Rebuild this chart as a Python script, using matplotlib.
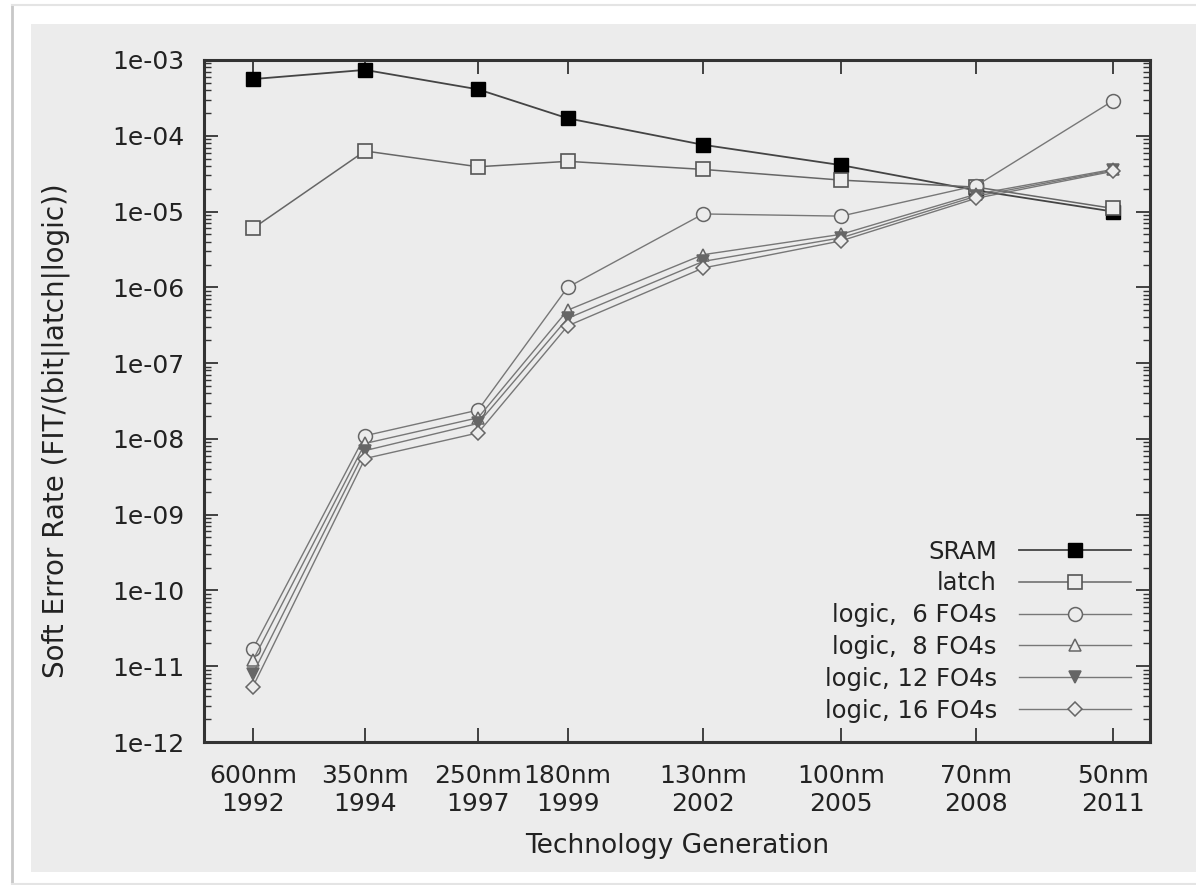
import matplotlib
matplotlib.use("Agg")
import matplotlib.pyplot as plt
from matplotlib.patches import Rectangle
from matplotlib.lines import Line2D
from matplotlib.ticker import LogLocator, FixedLocator, NullFormatter

# technology generations (x placement follows the original chart spacing)
nodes = ["600nm", "350nm", "250nm", "180nm", "130nm", "100nm", "70nm", "50nm"]
years = ["1992", "1994", "1997", "1999", "2002", "2005", "2008", "2011"]
gen_pos = [0.0, 1.0, 2.01, 2.81, 4.02, 5.25, 6.46, 7.68]

sram = [5.6e-4, 7.4e-4, 4.1e-4, 1.7e-4, 7.6e-5, 4.1e-5, 1.9e-5, 1.0e-5]
latch = [6.0e-6, 6.3e-5, 3.9e-5, 4.6e-5, 3.6e-5, 2.6e-5, 2.1e-5, 1.1e-5]
logic_6 = [1.7e-11, 1.1e-8, 2.4e-8, 1.0e-6, 9.3e-6, 8.7e-6, 2.2e-5, 2.9e-4]
logic_8 = [1.2e-11, 8.7e-9, 1.9e-8, 5.0e-7, 2.7e-6, 5.0e-6, 1.7e-5, 3.6e-5]
logic_12 = [8.0e-12, 7.0e-9, 1.6e-8, 3.9e-7, 2.2e-6, 4.5e-6, 1.6e-5, 3.5e-5]
logic_16 = [5.4e-12, 5.5e-9, 1.2e-8, 3.1e-7, 1.8e-6, 4.1e-6, 1.5e-5, 3.4e-5]

plt.rcParams["font.family"] = ["DejaVu Sans"]
panel = "#ececec"

fig = plt.figure(figsize=(11.96, 8.85), dpi=100)
fig.patch.set_facecolor("white")
fig.patches.append(Rectangle((31 / 1196, 13 / 885), 1 - 31 / 1196, (872 - 24) / 885,
                             transform=fig.transFigure, facecolor=panel,
                             edgecolor="none", zorder=-5))
fig.add_artist(Line2D([12 / 1196, 12 / 1196], [0, 1 - 5 / 885], transform=fig.transFigure,
                      color="#c8c8c8", lw=2, zorder=-5))
fig.add_artist(Line2D([12 / 1196, 1], [1 - 5 / 885, 1 - 5 / 885], transform=fig.transFigure,
                      color="#e4e4e4", lw=1.5, zorder=-5))
fig.add_artist(Line2D([12 / 1196, 1], [1 / 885, 1 / 885], transform=fig.transFigure,
                      color="#e4e4e4", lw=1.5, zorder=-5))

ax = fig.add_axes([204 / 1196, 1 - 742 / 885, (1150 - 204) / 1196, (742 - 60) / 885])
ax.set_facecolor(panel)

series = [
    ("SRAM", sram, dict(marker="s", ms=10, mfc="black", mec="black", color="#444444", lw=1.3)),
    ("latch", latch, dict(marker="s", ms=10, mfc=panel, mec="#555555", mew=1.2, color="#666666", lw=1.1)),
    ("logic,  6 FO4s", logic_6, dict(marker="o", ms=10, mfc=panel, mec="#666666", mew=1.1, color="#777777", lw=1.0)),
    ("logic,  8 FO4s", logic_8, dict(marker="^", ms=8, mfc=panel, mec="#666666", mew=1.1, color="#777777", lw=1.0)),
    ("logic, 12 FO4s", logic_12, dict(marker="v", ms=8, mfc="#666666", mec="#666666", mew=1.1, color="#777777", lw=1.0)),
    ("logic, 16 FO4s", logic_16, dict(marker="D", ms=7, mfc=panel, mec="#666666", mew=1.1, color="#777777", lw=1.0)),
]
for label, vals, style in series:
    ax.plot(gen_pos, vals, label=label, **style)

ax.set_yscale("log")
ax.set_ylim(1e-12, 1e-3)
ax.set_xlim(-0.4375, 8.01)
ax.yaxis.set_minor_locator(LogLocator(base=10, subs=range(2, 10), numticks=200))
ax.yaxis.set_minor_formatter(NullFormatter())
ax.set_yticks([10.0 ** e for e in range(-12, -2)])
ax.set_yticklabels([f"1e-{-e:02d}" for e in range(-12, -2)])
ax.xaxis.set_major_locator(FixedLocator(gen_pos))
ax.set_xticklabels([f"{n}\n{y}" for n, y in zip(nodes, years)])

ax.tick_params(axis="both", which="major", direction="in", length=10, width=1.3,
               colors="#333333", labelcolor="#222222", labelsize=18,
               top=True, right=True)
ax.tick_params(axis="y", which="minor", direction="in", length=5, width=1.0,
               colors="#333333", right=True)
ax.tick_params(axis="y", which="major", pad=14)
ax.tick_params(axis="x", which="major", pad=16)
for sp in ax.spines.values():
    sp.set_color("#333333")
    sp.set_linewidth(2.2)

ax.set_xlabel("Technology Generation", fontsize=19, color="#222222", labelpad=12)
ax.set_ylabel("Soft Error Rate (FIT/(bit|latch|logic))", fontsize=20, color="#222222")
ax.yaxis.set_label_coords(-0.142, 0.456)

leg = ax.legend(loc="lower right", frameon=False, markerfirst=False, fontsize=17.5,
                handlelength=4.6, labelspacing=0.32, borderaxespad=0.4,
                handletextpad=0.9)
for t in leg.get_texts():
    t.set_color("#222222")

fig.savefig("out.png", dpi=100, facecolor=fig.get_facecolor())
